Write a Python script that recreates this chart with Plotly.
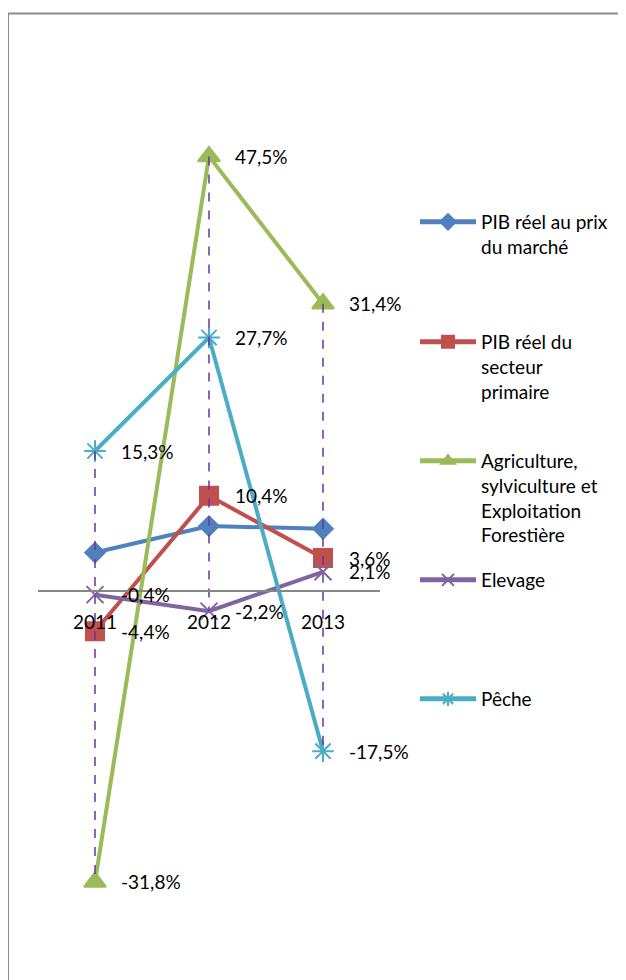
import plotly.graph_objects as go

# Données (taux de croissance, %)
years = ["2011", "2012", "2013"]
series_names = [
    "PIB réel au prix<br>du marché",
    "PIB réel du<br>secteur<br>primaire",
    "Agriculture,<br>sylviculture et<br>Exploitation<br>Forestière",
    "Elevage",
    "Pêche",
]
pib_marche = [4.2, 7.1, 6.8]
pib_primaire = [-4.4, 10.4, 3.6]
agriculture = [-31.8, 47.5, 31.4]
elevage = [-0.4, -2.2, 2.1]
peche = [15.3, 27.7, -17.5]

# which series get a data label
labelled = [False, True, True, True, True]

colors = ["#4F81BD", "#C0504D", "#9BBB59", "#8064A2", "#4BACC6"]
symbols = ["diamond", "square", "triangle-up", "x-thin-open", "asterisk-open"]
msizes = [15, 18, 19, 17, 18]

FONT = "Lato"
OFF = 8  # page body margin
W, H = 626 - OFF, 980 - OFF
PX_PER_PCT = 9.15
Y0 = 591 - OFF  # pixel row of the zero line
TOP, BOT = 40 - OFF, 960 - OFF
y_top = (Y0 - TOP) / PX_PER_PCT
y_bot = -(BOT - Y0) / PX_PER_PCT

all_series = [pib_marche, pib_primaire, agriculture, elevage, peche]
xpos = list(range(len(years)))

fig = go.Figure()

for i, (name, vals) in enumerate(zip(series_names, all_series)):
    fig.add_trace(go.Scatter(
        x=xpos, y=vals, name=name, mode="lines+markers",
        line=dict(color=colors[i], width=4),
        marker=dict(symbol=symbols[i], size=msizes[i], color=colors[i],
                    line=dict(color=colors[i], width=2)),
        legend="legend" if i == 0 else f"legend{i + 1}",
        cliponaxis=False,
    ))

# high-low lines (max to min at each year)
hx, hy = [], []
for j in xpos:
    col = [s[j] for s in all_series]
    hx += [j, j, None]
    hy += [max(col), min(col), None]
fig.add_trace(go.Scatter(
    x=hx, y=hy, mode="lines", showlegend=False, hoverinfo="skip",
    line=dict(color="#7030A0", width=1.5, dash="dash"),
))

# data labels
for i, vals in enumerate(all_series):
    if not labelled[i]:
        continue
    for j, v in zip(xpos, vals):
        fig.add_annotation(
            x=j, y=v, xref="x", yref="y",
            text=f"{v:.1f}%".replace(".", ","),
            showarrow=False, xanchor="left", yanchor="middle", xshift=24,
            font=dict(family=FONT, size=19, color="#000000"),
        )

legend_rows = [222, 342, 461, 580, 699]
legend_common = dict(
    font=dict(family=FONT, size=19, color="#000000"),
    bgcolor="rgba(0,0,0,0)", valign="top", itemwidth=56,
    itemsizing="constant",
    xanchor="left", yanchor="top", x=(415 - OFF) / W,
)
layout_legends = {}
for i, row in enumerate(legend_rows):
    key = "legend" if i == 0 else f"legend{i + 1}"
    layout_legends[key] = dict(legend_common, y=1 - (row - OFF - 19) / H)

fig.update_layout(
    width=W, height=H,
    margin=dict(l=0, r=0, t=0, b=0),
    paper_bgcolor="white", plot_bgcolor="white",
    font=dict(family=FONT, size=19, color="#000000"),
    xaxis=dict(
        domain=[(38 - OFF) / W, (380 - OFF) / W], range=[-0.5, 2.5],
        tickvals=xpos, ticktext=years,
        anchor="free", position=(H - Y0) / H,
        showline=True, linecolor="#868686", linewidth=1.5,
        showgrid=False, zeroline=False, ticks="",
        tickfont=dict(family=FONT, size=19), ticklabelstandoff=14,
    ),
    yaxis=dict(
        domain=[(H - BOT) / H, (H - TOP) / H], range=[y_bot, y_top],
        showticklabels=False, showline=False, showgrid=False, zeroline=False,
        ticks="",
    ),
    shapes=[dict(
        type="rect", xref="paper", yref="paper",
        x0=0, x1=1.2, y0=-0.2, y1=1 - (13.5 - OFF) / H,
        line=dict(color="#8C8C8C", width=2), fillcolor="rgba(0,0,0,0)",
    )],
    **layout_legends,
)

fig.write_html("out.html")
